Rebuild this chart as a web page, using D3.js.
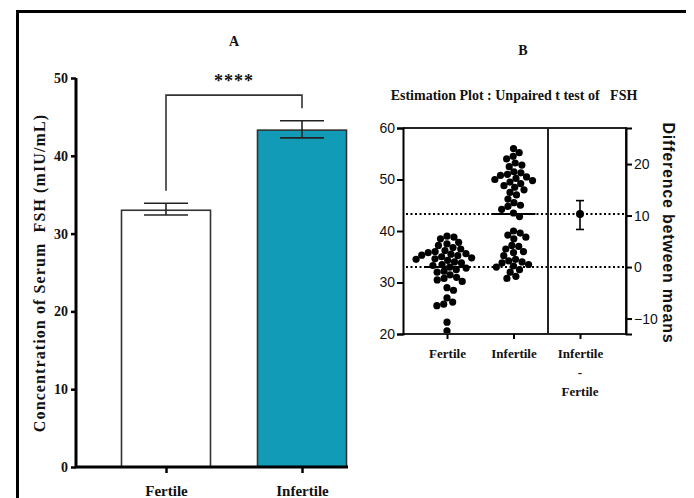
<!DOCTYPE html>
<html>
<head>
<meta charset="utf-8">
<script src="https://cdn.jsdelivr.net/npm/d3@7"></script>
<style>
  body { margin: 0; background: #fff; }
  svg { display: block; }
  text { fill: #111; }
  .serif { font-family: "Liberation Serif", "Times New Roman", serif; font-weight: bold; }
  .sans { font-family: "Liberation Sans", Arial, sans-serif; }
</style>
</head>
<body>
<svg id="svg" width="694" height="498"></svg>
<script>
// groups
const groups = ["Fertile", "Infertile"];

// panel A : mean and error bar (upper / lower)
const barMeans = [33.0, 43.3];
const errHigh = [33.9, 44.5];
const errLow = [32.4, 42.3];

// panel B : individual values
const fertileValues = [39.0, 38.8, 38.5, 37.8, 37.5, 37.2, 36.8, 36.5, 36.2, 36.0,
  35.8, 35.6, 35.5, 35.3, 35.2, 35.0, 34.8, 34.6, 34.5, 34.3,
  34.0, 33.8, 33.5, 33.3, 33.0, 32.8, 32.5, 32.2, 32.0, 31.5,
  31.0, 30.8, 30.5, 30.2, 29.0, 28.5, 27.0, 26.2, 25.8, 25.5, 22.3, 20.6];
const infertileValues = [56.0, 55.2, 54.5, 54.0, 53.2, 52.8, 52.5, 51.5, 51.3, 51.0,
  50.8, 50.5, 50.2, 50.0, 49.8, 49.5, 49.2, 48.8, 48.5, 48.0,
  47.5, 47.0, 46.2, 45.5, 45.0, 44.8, 44.2, 43.5, 42.8,
  40.0, 39.6, 39.2, 38.8, 38.5, 37.2, 37.0, 36.5, 36.0, 35.8, 35.2,
  34.5, 34.2, 34.0, 33.8, 33.5, 33.2, 33.0, 32.5, 32.0, 31.2, 30.8];

// difference between means (estimate, CI low, CI high)
const diffEstimate = [10.3];
const diffLow = [7.3];
const diffHigh = [12.9];

// tick labels
const ticksA = [0, 10, 20, 30, 40, 50];
const ticksB = [20, 30, 40, 50, 60];
const ticksDiff = [-10, 0, 10, 20];

const svg = d3.select("#svg");

// outer frame (top + left)
svg.append("path")
  .attr("d", "M17.5,498 L17.5,11.5 L686,11.5")
  .attr("fill", "none").attr("stroke", "#000").attr("stroke-width", 3);

// ---------------- Panel A ----------------
const yA = d3.scaleLinear().domain([0, 50]).range([467, 78]);
const xA = d3.scalePoint().domain(groups).range([166, 302]);
const barW = 89;
const gA = svg.append("g");

gA.append("text").attr("class", "serif")
  .attr("x", 234).attr("y", 46).attr("text-anchor", "middle")
  .style("font-size", "14px").text("A");

// bars
gA.selectAll(".bar")
  .data(groups)
  .enter()
  .append("rect")
  .attr("x", d => xA(d) - barW / 2)
  .attr("y", (d, i) => yA(barMeans[i]))
  .attr("width", barW)
  .attr("height", (d, i) => yA(0) - yA(barMeans[i]))
  .attr("fill", (d, i) => i === 0 ? "#fff" : "#119bb6")
  .attr("stroke", "#333")
  .attr("stroke-width", 1.6);

// error bars
groups.forEach((g, i) => {
  const cx = xA(g);
  const e = gA.append("g").attr("stroke", "#222").attr("stroke-width", 1.6);
  e.append("line").attr("x1", cx).attr("x2", cx).attr("y1", yA(errHigh[i])).attr("y2", yA(errLow[i]));
  e.append("line").attr("x1", cx - 22).attr("x2", cx + 22).attr("y1", yA(errHigh[i])).attr("y2", yA(errHigh[i]));
  e.append("line").attr("x1", cx - 22).attr("x2", cx + 22).attr("y1", yA(errLow[i])).attr("y2", yA(errLow[i]));
});

// significance bracket
gA.append("path")
  .attr("d", `M${xA("Fertile")},${yA(35.5)} L${xA("Fertile")},${yA(47.8)} L${xA("Infertile")},${yA(47.8)} L${xA("Infertile")},${yA(46.1)}`)
  .attr("fill", "none").attr("stroke", "#333").attr("stroke-width", 1.6);
gA.append("text").attr("class", "serif")
  .attr("x", (xA("Fertile") + xA("Infertile")) / 2).attr("y", yA(48.9))
  .attr("text-anchor", "middle").style("font-size", "18px").style("letter-spacing", "1px").text("****");

// y axis
const axA = gA.append("g")
  .attr("transform", "translate(76,0)")
  .call(d3.axisLeft(yA).tickValues(ticksA).tickSize(5).tickPadding(3));
axA.select(".domain").attr("d", `M0,${yA(50)}V${yA(0)}`).attr("stroke-width", 3);
axA.selectAll(".tick line").attr("stroke-width", 2.5);
axA.selectAll("text").attr("class", "serif").style("font-size", "14px").attr("fill", "#111");

// x axis
const axAx = gA.append("g")
  .attr("transform", `translate(0,${yA(0)})`)
  .call(d3.axisBottom(xA).tickSize(6).tickPadding(12));
axAx.select(".domain").attr("d", "M75,0H348").attr("stroke-width", 3);
axAx.selectAll(".tick line").attr("stroke-width", 2.5);
axAx.selectAll("text").attr("class", "serif").style("font-size", "15px").attr("fill", "#111");

gA.append("text").attr("class", "serif")
  .attr("transform", "translate(45,273) rotate(-90)")
  .attr("text-anchor", "middle").style("font-size", "16px")
  .style("letter-spacing", "1.1px")
  .style("white-space", "pre")
  .text("Concentration of Serum  FSH (mIU/mL)");

// ---------------- Panel B ----------------
const yB = d3.scaleLinear().domain([20, 60]).range([334, 128]);
const xB = d3.scalePoint().domain(["Fertile", "Infertile", "Diff"]).range([447, 580]);
const yD = d3.scaleLinear()
  .domain([20 - barMeans[0], 60 - barMeans[0]])
  .range([334, 128]);
const gB = svg.append("g");
const left = 403, right = 626, divider = 548;

gB.append("text").attr("class", "serif")
  .attr("x", 523).attr("y", 55).attr("text-anchor", "middle")
  .style("font-size", "14px").text("B");
gB.append("text").attr("class", "serif")
  .attr("x", 514).attr("y", 100).attr("text-anchor", "middle")
  .style("font-size", "14px").style("white-space", "pre")
  .text("Estimation Plot : Unpaired t test of   FSH");

// dotted lines at both means
barMeans.forEach(m => {
  gB.append("line")
    .attr("x1", left + 3).attr("x2", right - 2)
    .attr("y1", yB(m)).attr("y2", yB(m))
    .attr("stroke", "#000").attr("stroke-width", 2)
    .attr("stroke-dasharray", "2,2.5");
});

// beeswarm layout
function swarm(values, cx, r) {
  const placed = [];
  const sorted = values.slice().sort((a, b) => b - a);
  sorted.forEach(v => {
    const y = yB(v);
    const near = placed.filter(p => Math.abs(p.y - y) < 2 * r);
    const cands = [0];
    near.forEach(p => {
      const dx = Math.sqrt(4 * r * r - (p.y - y) ** 2);
      cands.push(p.dx + dx, p.dx - dx);
    });
    cands.sort((a, b) => Math.abs(a) - Math.abs(b));
    const ok = cands.find(c => near.every(p => (p.dx - c) ** 2 + (p.y - y) ** 2 >= 4 * r * r - 0.01));
    placed.push({ dx: ok, y: y });
  });
  return placed.map(p => ({ x: cx + p.dx, y: p.y }));
}

const dotR = 3.6;
[fertileValues, infertileValues].forEach((vals, i) => {
  const pts = swarm(vals, xB(groups[i]), 3.5);
  gB.selectAll(null)
    .data(pts)
    .enter()
    .append("circle")
    .attr("cx", d => d.x)
    .attr("cy", d => d.y)
    .attr("r", dotR)
    .attr("fill", "#000");
  // mean line
  gB.append("line")
    .attr("x1", xB(groups[i]) - 22).attr("x2", xB(groups[i]) + 22)
    .attr("y1", yB(barMeans[i])).attr("y2", yB(barMeans[i]))
    .attr("stroke", "#000").attr("stroke-width", 2);
});

// difference estimate with CI
const dx = xB("Diff");
gB.append("line").attr("x1", dx).attr("x2", dx)
  .attr("y1", yD(diffHigh[0])).attr("y2", yD(diffLow[0]))
  .attr("stroke", "#000").attr("stroke-width", 1.6);
[diffHigh[0], diffLow[0]].forEach(v => {
  gB.append("line").attr("x1", dx - 4).attr("x2", dx + 4)
    .attr("y1", yD(v)).attr("y2", yD(v))
    .attr("stroke", "#000").attr("stroke-width", 1.6);
});
gB.append("circle").attr("cx", dx).attr("cy", yD(diffEstimate[0])).attr("r", 4).attr("fill", "#000");

// box
gB.append("path")
  .attr("d", `M${left},${yB(60)} H${right} V${yB(20)} H${left} M${divider},${yB(60)} V${yB(20)}`)
  .attr("fill", "none").attr("stroke", "#222").attr("stroke-width", 2);

// left axis
const axB = gB.append("g")
  .attr("transform", `translate(${left},0)`)
  .call(d3.axisLeft(yB).tickValues(ticksB).tickSize(6).tickPadding(2));
axB.select(".domain").attr("stroke-width", 2);
axB.selectAll(".tick line").attr("stroke-width", 2);
axB.selectAll("text").attr("class", "sans").style("font-size", "14px").attr("fill", "#111");

// right axis
const axD = gB.append("g")
  .attr("transform", `translate(${right},0)`)
  .call(d3.axisRight(yD).tickValues(ticksDiff).tickSize(6).tickPadding(2));
axD.select(".domain").attr("stroke-width", 2);
axD.selectAll(".tick line").attr("stroke-width", 2);
axD.selectAll("text").attr("class", "sans").style("font-size", "14px").attr("fill", "#111");

// bottom ticks and labels
const axBx = gB.append("g")
  .attr("transform", `translate(0,${yB(20)})`)
  .call(d3.axisBottom(xB).tickSize(5).tickPadding(10).tickFormat(d => d === "Diff" ? "Infertile" : d));
axBx.select(".domain").remove();
axBx.selectAll(".tick line").attr("stroke-width", 2);
axBx.selectAll("text").attr("class", "serif").style("font-size", "13px").attr("fill", "#111");
gB.append("text").attr("class", "serif").attr("x", dx).attr("y", 377)
  .attr("text-anchor", "middle").style("font-size", "13px").text("-");
gB.append("text").attr("class", "serif").attr("x", dx).attr("y", 396)
  .attr("text-anchor", "middle").style("font-size", "13px").text("Fertile");

gB.append("text").attr("class", "sans")
  .attr("transform", "translate(663,233) rotate(90)")
  .attr("text-anchor", "middle")
  .style("font-size", "16px").style("font-weight", "bold")
  .style("letter-spacing", "0.8px")
  .text("Difference between means");
</script>
</body>
</html>
